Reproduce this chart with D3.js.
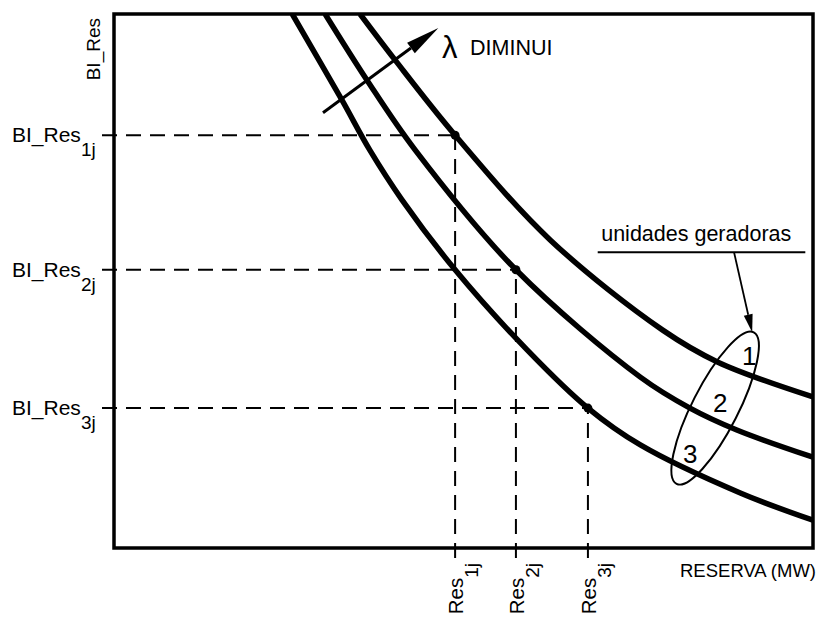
<!DOCTYPE html>
<html>
<head>
<meta charset="utf-8">
<script src="https://cdn.jsdelivr.net/npm/d3@7"></script>
<style>
  body { margin: 0; background: #fff; }
  text { font-family: "Liberation Sans", Arial, sans-serif; fill: #000; }
</style>
</head>
<body>
<svg id="chart" width="823" height="617"></svg>
<script>
// curves (RESERVA vs BI_Res, both on a 0..100 scale)
var unitNames = ["1", "2", "3"];

var unit1Res = [35.2, 40.2, 48.8, 62.4, 78.5, 86.4, 100];
var unit1BI  = [100, 91.4, 77.3, 57.7, 40.8, 34.8, 28.3];

var unit2Res = [30.2, 36.2, 43.1, 57.5, 75.3, 82.4, 89.1, 100];
var unit2BI  = [100, 87.6, 74.5, 52.1, 32.0, 26.2, 22.1, 17.0];

var unit3Res = [25.5, 32.6, 36.6, 41.2, 48.8, 59.1, 67.8, 75.3, 89.6, 100];
var unit3BI  = [100, 83.9, 74.5, 65.2, 52.1, 37.1, 26.2, 19.3, 10.3, 5.2];

// operating points j for each unit
var biLevels = [77.3, 52.1, 26.2];
var resLevels = [48.8, 57.5, 67.8];
var levelLabels = ["1j", "2j", "3j"];

var svg = d3.select("#chart");

var margin = {left: 114, top: 14, right: 10, bottom: 69};
var width = 823 - margin.left - margin.right;
var height = 617 - margin.top - margin.bottom;

var x = d3.scaleLinear().domain([0, 100]).range([margin.left, margin.left + width]);
var y = d3.scaleLinear().domain([0, 100]).range([margin.top + height, margin.top]);

var curves = [
    {name: unitNames[0], res: unit1Res, bi: unit1BI},
    {name: unitNames[1], res: unit2Res, bi: unit2BI},
    {name: unitNames[2], res: unit3Res, bi: unit3BI}
];

svg.append("clipPath")
    .attr("id", "plot-clip")
    .append("rect")
    .attr("x", x(0))
    .attr("y", y(100))
    .attr("width", width)
    .attr("height", height);

// dashed guide lines
var guides = svg.append("g")
    .attr("stroke", "#000")
    .attr("stroke-width", 2)
    .attr("stroke-dasharray", "15,9")
    .attr("fill", "none");

biLevels.forEach(function (b, i) {
    guides.append("line")
        .attr("x1", x(0) - 12)
        .attr("x2", x(resLevels[i]))
        .attr("y1", y(b))
        .attr("y2", y(b));
    guides.append("line")
        .attr("x1", x(resLevels[i]))
        .attr("x2", x(resLevels[i]))
        .attr("y1", y(0) + 10)
        .attr("y2", y(b));
});

// the three unit curves
var line = d3.line()
    .x(function (d) { return x(d[0]); })
    .y(function (d) { return y(d[1]); })
    .curve(d3.curveCatmullRom.alpha(0.5));

svg.append("g")
    .attr("clip-path", "url(#plot-clip)")
    .selectAll("path")
    .data(curves)
    .enter().append("path")
    .attr("d", function (c) {
        return line(d3.zip(c.res, c.bi));
    })
    .attr("fill", "none")
    .attr("stroke", "#000")
    .attr("stroke-width", 5.5);

svg.append("g")
    .selectAll("circle")
    .data(biLevels)
    .enter().append("circle")
    .attr("cx", function (d, i) { return x(resLevels[i]); })
    .attr("cy", function (d) { return y(d); })
    .attr("r", 4.5)
    .attr("fill", "#000");

// frame
svg.append("rect")
    .attr("x", x(0))
    .attr("y", y(100))
    .attr("width", width)
    .attr("height", height)
    .attr("fill", "none")
    .attr("stroke", "#000")
    .attr("stroke-width", 3.5);

// axis titles
svg.append("text")
    .attr("transform", "translate(100," + (y(100) + 4) + ") rotate(-90)")
    .attr("text-anchor", "end")
    .attr("font-size", 19)
    .text("BI_Res");

svg.append("text")
    .attr("x", 680)
    .attr("y", 577)
    .attr("font-size", 18.5)
    .text("RESERVA (MW)");

// level labels on the left
var leftLabels = svg.append("g").selectAll("text")
    .data(biLevels)
    .enter().append("text")
    .attr("x", 12)
    .attr("y", function (d) { return y(d) + 7; })
    .attr("font-size", 21)
    .text("BI_Res");
leftLabels.append("tspan")
    .attr("dy", 14)
    .attr("font-size", 19)
    .text(function (d, i) { return levelLabels[i]; });

// level labels below the axis
var bottomLabels = svg.append("g").selectAll("text")
    .data(resLevels)
    .enter().append("text")
    .attr("transform", function (d) {
        return "translate(" + (x(d) + 8) + "," + (y(0) + 15) + ") rotate(-90)";
    })
    .attr("text-anchor", "end")
    .attr("font-size", 20.5)
    .text("Res");
bottomLabels.append("tspan")
    .attr("dy", 15)
    .attr("font-size", 19)
    .text(function (d, i) { return levelLabels[i]; });

// arrows
function arrow(from, to, headLen, headHalf, strokeW) {
    var x1 = x(from[0]), y1 = y(from[1]), x2 = x(to[0]), y2 = y(to[1]);
    var a = Math.atan2(y2 - y1, x2 - x1);
    var bx = x2 - headLen * Math.cos(a), by = y2 - headLen * Math.sin(a);
    svg.append("line")
        .attr("x1", x1).attr("y1", y1)
        .attr("x2", bx).attr("y2", by)
        .attr("stroke", "#000")
        .attr("stroke-width", strokeW);
    var pts = [
        [x2, y2],
        [bx - headHalf * Math.sin(a), by + headHalf * Math.cos(a)],
        [bx + headHalf * Math.sin(a), by - headHalf * Math.cos(a)]
    ];
    svg.append("polygon")
        .attr("points", pts.map(function (p) { return p.join(","); }).join(" "))
        .attr("fill", "#000");
}

arrow([29.9, 81.5], [46.4, 97.4], 34, 6.5, 3);

svg.append("text")
    .attr("x", 442)
    .attr("y", 58)
    .attr("font-size", 31)
    .text("\u03bb");
svg.append("text")
    .attr("x", 470)
    .attr("y", 55)
    .attr("font-size", 21.5)
    .text("DIMINUI");

// "unidades geradoras" note
svg.append("text")
    .attr("x", x(69.7))
    .attr("y", y(57.5))
    .attr("font-size", 21.5)
    .text("unidades geradoras");
svg.append("line")
    .attr("x1", x(69.2))
    .attr("x2", x(98.9))
    .attr("y1", y(55.4))
    .attr("y2", y(55.4))
    .attr("stroke", "#000")
    .attr("stroke-width", 2);
arrow([88.7, 55.4], [91.3, 40.4], 18, 4.5, 1.8);

var ell = svg.append("g")
    .attr("transform", "translate(" + x(86) + "," + y(26.2) + ")");
ell.append("ellipse")
    .attr("rx", 85)
    .attr("ry", 23)
    .attr("transform", "rotate(-63)")
    .attr("fill", "none")
    .attr("stroke", "#000")
    .attr("stroke-width", 2);
var digitOffsets = [[34, -43], [5, 4], [-25, 55]];
ell.selectAll("text.unit")
    .data(unitNames)
    .enter().append("text")
    .attr("class", "unit")
    .attr("x", function (d, i) { return digitOffsets[i][0]; })
    .attr("y", function (d, i) { return digitOffsets[i][1]; })
    .attr("text-anchor", "middle")
    .attr("font-size", 26)
    .text(function (d) { return d; });
</script>
</body>
</html>
